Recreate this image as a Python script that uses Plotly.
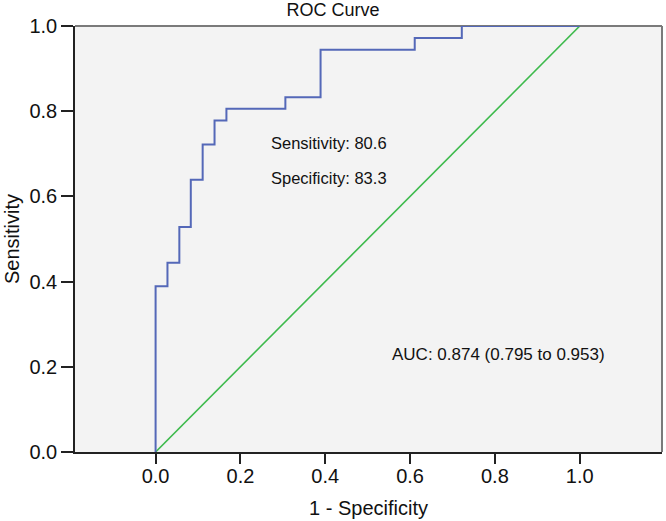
import plotly.graph_objects as go

# ROC step curve (1 - specificity, sensitivity) corner points
fpr = [0.0, 0.0, 0.028, 0.056, 0.083, 0.111, 0.139, 0.167, 0.306, 0.389, 0.611, 0.722, 1.0]
tpr = [0.0, 0.389, 0.444, 0.528, 0.639, 0.722, 0.778, 0.806, 0.833, 0.944, 0.972, 1.0, 1.0]

# reference (chance) line
ref_x = [0.0, 1.0]
ref_y = [0.0, 1.0]

tick_vals = [0.0, 0.2, 0.4, 0.6, 0.8, 1.0]
tick_text = ["0.0", "0.2", "0.4", "0.6", "0.8", "1.0"]

sens_label = "Sensitivity: 80.6"
spec_label = "Specificity: 83.3"
auc_label = "AUC: 0.874 (0.795 to 0.953)"

fig = go.Figure()
fig.add_trace(go.Scatter(x=ref_x, y=ref_y, mode="lines",
                         line=dict(color="#3dba4c", width=1.6),
                         cliponaxis=False, hoverinfo="skip"))
fig.add_trace(go.Scatter(x=fpr, y=tpr, mode="lines", line_shape="hv",
                         line=dict(color="#5468b8", width=2),
                         cliponaxis=False))

fam = "Liberation Sans, Arial"
fig.add_annotation(x=0.268, y=0.725, xref="x", yref="y", text=sens_label, showarrow=False,
                   xanchor="left", yanchor="middle", font=dict(family=fam, size=16.5, color="#111"))
fig.add_annotation(x=0.268, y=0.643, xref="x", yref="y", text=spec_label, showarrow=False,
                   xanchor="left", yanchor="middle", font=dict(family=fam, size=16.5, color="#111"))
fig.add_annotation(x=0.553, y=0.228, xref="x", yref="y", text=auc_label, showarrow=False,
                   xanchor="left", yanchor="middle", font=dict(family=fam, size=17, color="#111"))

# top and right frame lines (lighter grey)
fig.add_shape(type="line", xref="paper", yref="paper", x0=0, x1=1, y0=1, y1=1,
              line=dict(color="#7a7a7a", width=2), layer="below")
fig.add_shape(type="line", xref="paper", yref="paper", x0=1, x1=1, y0=0, y1=1,
              line=dict(color="#7a7a7a", width=2), layer="below")

axis_font = dict(family=fam, size=20, color="#111")
fig.update_layout(
    width=666, height=521,
    margin=dict(l=75, r=4, t=26, b=69, autoexpand=False),
    paper_bgcolor="white", plot_bgcolor="#f3f3f3",
    showlegend=False,
    title=dict(text="ROC Curve", x=0.5, xref="container", xanchor="center",
               y=1 - 10 / 521, yref="container", yanchor="middle", automargin=False,
               font=dict(family=fam, size=18, color="#111")),
    xaxis=dict(range=[-0.19, 1.194], tickvals=tick_vals, ticktext=tick_text,
               showgrid=False, zeroline=False, showline=True, linecolor="#222", linewidth=1.5,
               ticks="outside", ticklen=10, tickwidth=1.5, tickcolor="#222",
               tickfont=axis_font, automargin=False, ticklabelstandoff=-5,
               title=dict(text="1 - Specificity", font=dict(family=fam, size=20, color="#111"),
                          standoff=15)),
    yaxis=dict(range=[0, 1], tickvals=tick_vals, ticktext=tick_text,
               showgrid=False, zeroline=False, showline=True, linecolor="#222", linewidth=1.5,
               ticks="outside", ticklen=12, tickwidth=1.5, tickcolor="#222",
               tickfont=axis_font, automargin=False,
               title=dict(text="Sensitivity", font=dict(family=fam, size=20, color="#111"),
                          standoff=4)),
)

fig.write_html("out.html", config={"displayModeBar": False},
               post_script="document.body.style.margin='0';")
